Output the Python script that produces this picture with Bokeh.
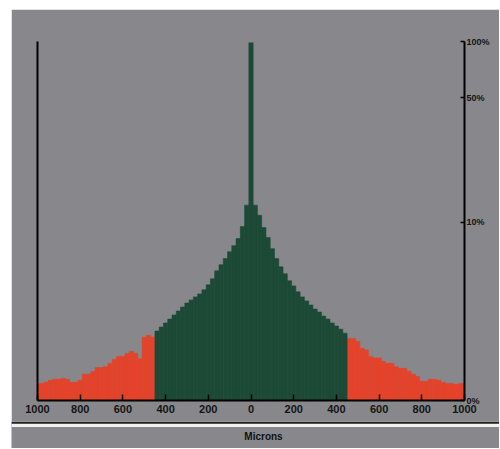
import math
from bokeh.plotting import figure
from bokeh.models import ColumnDataSource, LinearAxis, FixedTicker, Span, Range1d, Label
from bokeh.layouts import column
from bokeh.embed import file_html
from bokeh.resources import INLINE

# ---- data -------------------------------------------------------------
bin_width = 20  # microns
bin_centers = list(range(-1000, 1001, 20))
percent = [
    0.30, 0.30, 0.32, 0.36, 0.38, 0.38, 0.40, 0.38, 0.32, 0.32,
    0.36, 0.49, 0.49, 0.55, 0.64, 0.64, 0.66, 0.74, 0.84, 0.92,
    0.92, 1.00, 1.06, 1.00, 0.86, 1.50, 1.57, 1.50, 1.72, 1.87,
    2.03, 2.19, 2.37, 2.55, 2.74, 2.94, 3.10, 3.27, 3.44, 3.68,
    3.99, 4.39, 4.97, 5.45, 5.97, 6.61, 7.21, 7.97, 9.43, 12.6,
    100.0,
    12.6, 11.0, 9.3, 8.1, 6.9, 5.97, 5.28, 4.75, 4.25, 3.92,
    3.56, 3.27, 3.05, 2.84, 2.64, 2.50, 2.32, 2.19, 2.03, 1.91,
    1.79, 1.64, 1.46, 1.46, 1.37, 1.15, 1.10, 0.92, 0.88, 0.88,
    0.79, 0.74, 0.74, 0.66, 0.62, 0.62, 0.55, 0.49, 0.44, 0.34,
    0.34, 0.38, 0.38, 0.36, 0.32, 0.30, 0.30, 0.28, 0.30, 0.30,
]
tolerance = 450  # microns: inside -> green, outside -> red

x_ticks = [-1000, -800, -600, -400, -200, 0, 200, 400, 600, 800, 1000]
x_tick_labels = ["1000", "800", "600", "400", "200", "0", "200", "400", "600", "800", "1000"]
pct_ticks = [0, 10, 50, 100]
pct_tick_labels = ["0%", "10%", "50%", "100%"]
x_title = "Microns"

# ---- scale (compressed percentage axis) -------------------------------
C = 1.3
def T(v):
    return round(math.log10((v + C) / C), 6)

GREY = "#88888c"
GREEN = "#1c4a37"
RED = "#e4432b"
FONT = "Liberation Sans"

inside = [abs(c) < tolerance for c in bin_centers]
src_in = ColumnDataSource(dict(
    x=[c for c, k in zip(bin_centers, inside) if k],
    top=[T(v) for v, k in zip(percent, inside) if k]))
src_out = ColumnDataSource(dict(
    x=[c for c, k in zip(bin_centers, inside) if not k],
    top=[T(v) for v, k in zip(percent, inside) if not k]))

W = 488
p = figure(width=W, height=412,
           x_range=Range1d(-1000, 1000), y_range=Range1d(0, T(100)),
           output_backend="svg", toolbar_location=None,
           y_axis_location="right",
           min_border_left=26, min_border_right=35,
           min_border_top=32, min_border_bottom=21,
           background_fill_color=GREY, border_fill_color=GREY,
           outline_line_color=None)
p.grid.visible = False

p.vbar(x="x", top="top", width=bin_width, source=src_out,
       fill_color=RED, line_color=RED, line_width=0.6)
p.vbar(x="x", top="top", width=bin_width, source=src_in,
       fill_color=GREEN, line_color=GREEN, line_width=0.6)

# bottom axis
xa = p.xaxis[0]
xa.ticker = FixedTicker(ticks=x_ticks)
xa.major_label_overrides = {t: l for t, l in zip(x_ticks, x_tick_labels)}
xa.axis_line_width = 2
xa.axis_line_color = "black"
xa.major_tick_in = 6
xa.major_tick_out = 0
xa.major_tick_line_width = 1.5
xa.major_tick_line_color = "black"
xa.minor_tick_line_color = None
xa.major_label_standoff = 4
xa.major_label_text_font = FONT
xa.major_label_text_font_style = "bold"
xa.major_label_text_font_size = "11px"
xa.major_label_text_color = "#141414"

# right percentage axis
ya = p.yaxis[0]
ya.ticker = FixedTicker(ticks=[T(v) for v in pct_ticks])
ya.major_label_overrides = {T(v): l for v, l in zip(pct_ticks, pct_tick_labels)}
ya.axis_line_width = 2
ya.axis_line_color = "black"
ya.major_tick_in = 4
ya.major_tick_out = 0
ya.major_tick_line_width = 1.5
ya.major_tick_line_color = "black"
ya.minor_tick_line_color = None
ya.major_label_standoff = 2
ya.major_label_text_font = FONT
ya.major_label_text_font_style = "bold"
ya.major_label_text_font_size = "9px"
ya.major_label_text_color = "#141414"

# plain left axis line
la = LinearAxis(ticker=FixedTicker(ticks=[]), major_label_text_font_size="0px",
                axis_line_width=2, axis_line_color="black",
                major_tick_line_color=None, minor_tick_line_color=None)
p.add_layout(la, "left")

# invisible (background-coloured) top edge to hide the frame seam
ta = LinearAxis(ticker=FixedTicker(ticks=[]), major_label_text_font_size="0px",
                axis_line_width=2, axis_line_color=GREY,
                major_tick_line_color=None, minor_tick_line_color=None)
p.add_layout(ta, "above")

# bottom strip with title
p2 = figure(width=W, height=27, x_range=Range1d(0, W), y_range=Range1d(0, 27),
            output_backend="svg", toolbar_location=None,
            x_axis_location=None, y_axis_location=None,
            min_border=0, background_fill_color=GREY, border_fill_color=GREY,
            outline_line_color=None)
p2.frame_align = False
p2.grid.visible = False
p2.add_layout(Span(location=26, dimension="width", line_color="#202020", line_width=2))
p2.add_layout(Span(location=23, dimension="width", line_color="#f2f2f2", line_width=3))
p2.add_layout(Label(x=252, y=12, text=x_title, text_font=FONT, text_font_style="bold",
                    text_font_size="10px", text_align="center", text_baseline="middle",
                    text_color="#111111"))

layout = column(p, p2, spacing=0, margin=(9, 0, 0, 11))
open("out.html", "w").write(file_html(layout, INLINE))
